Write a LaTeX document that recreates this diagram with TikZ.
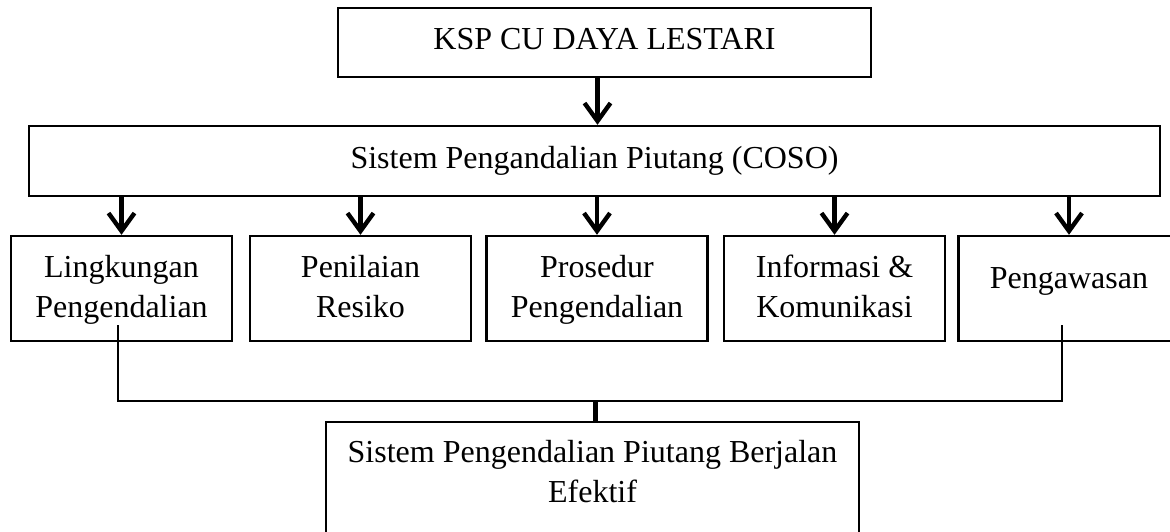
\documentclass[tikz,border=0pt]{standalone}
\usepackage{fontspec}
\setmainfont{Liberation Serif}
\usetikzlibrary{arrows.meta}

\tikzset{
  kotak/.style={draw, line width=1.2pt, inner sep=0pt, align=center,
                font=\fontsize{16}{20}\selectfont},
  komponen/.style={kotak, minimum width=110.5pt, minimum height=52.5pt, text depth=2.5pt},
  panah/.style={-{Straight Barb[length=9pt,width=13pt]}, line width=2.2pt},
  garis/.style={line width=1.2pt},
}

\begin{document}
\begin{tikzpicture}[x=0.5pt,y=-0.5pt]
                    \useasboundingbox (0,0) rectangle (1170,531);
                    \node[kotak, minimum width=266.5pt, minimum height=34.5pt, text depth=3.5pt] (ksp) at (604.5,42.5) {KSP CU DAYA LESTARI};
                    \node[kotak, minimum width=565.5pt, minimum height=35pt] (coso) at (594.5,161) {Sistem Pengandalian Piutang (COSO)};
                    \node[komponen] (lingkungan) at (121.5,288.5) {Lingkungan\\Pengendalian};
                    \node[komponen] (resiko) at (360.5,288.5) {Penilaian\\Resiko};
                    \node[komponen] (prosedur) at (597,288.5) {Prosedur\\Pengendalian};
                    \node[komponen] (informasi) at (834.5,288.5) {Informasi \&\\Komunikasi};
                    \node[komponen, text height=11pt, text depth=11pt] (pengawasan) at (1069,288.5) {Pengawasan};
                    \node[kotak, anchor=north, minimum width=266.5pt, inner ysep=9pt, text depth=45pt] (efektif) at (592.5,421) {Sistem Pengendalian Piutang Berjalan\\Efektif};
                    \draw[panah] ([xshift=-3.5pt]ksp.south) -- ([xshift=-3.5pt]ksp.south |- coso.north);
                    \draw[panah] (coso.south -| lingkungan.north) -- (lingkungan.north);
                    \draw[panah] (coso.south -| resiko.north) -- (resiko.north);
                    \draw[panah] (coso.south -| prosedur.north) -- (prosedur.north);
                    \draw[panah] (coso.south -| informasi.north) -- (informasi.north);
                    \draw[panah] (coso.south -| pengawasan.north) -- (pengawasan.north);
                    \coordinate (temu) at (595,401);
                    \draw[garis] ([xshift=-1.75pt,yshift=8.5pt]lingkungan.south) |- (temu) -| ([xshift=-3.5pt,yshift=8.5pt]pengawasan.south);
                    \draw[line width=2.5pt] (temu) -- (temu |- efektif.north);
                \end{tikzpicture}
\end{document}
